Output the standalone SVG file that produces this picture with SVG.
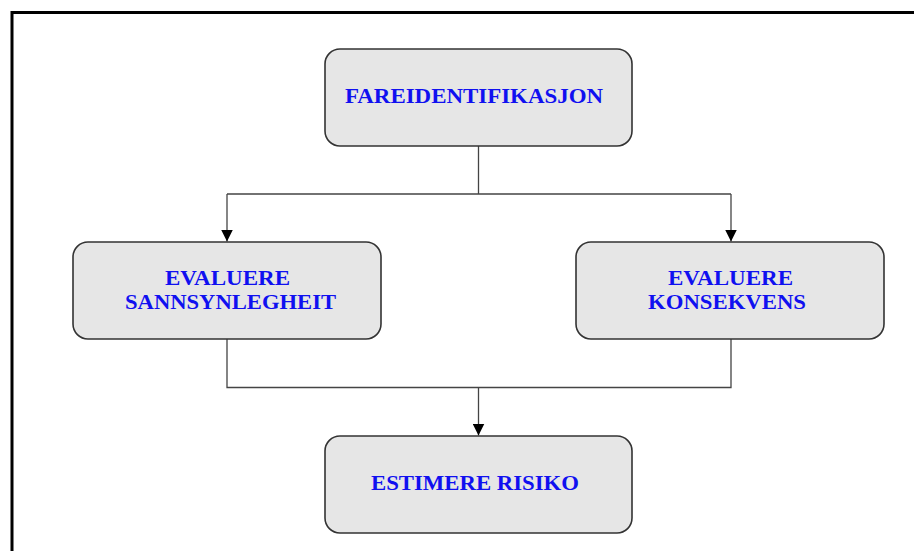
<svg xmlns="http://www.w3.org/2000/svg" width="914" height="551" viewBox="0 0 914 551">
<defs>
<style>
.box{fill:#e6e6e6;stroke:#333;stroke-width:1.6}
.lbl{font-family:"Liberation Serif","Times New Roman",serif;font-weight:bold;font-size:20px;fill:#1010f0}
.con{fill:none;stroke:#444;stroke-width:1.3}
</style>
<marker id="ah" markerWidth="12" markerHeight="12" viewBox="0 0 12 12" refX="12" refY="6" orient="auto" markerUnits="userSpaceOnUse">
<path d="M0,0 L12,6 L0,12 Z" fill="#000"/>
</marker>
</defs>
<rect width="914" height="551" fill="#fff"/>
<rect x="12" y="12.5" width="920" height="560" fill="none" stroke="#000" stroke-width="3"/>
<g id="connectors">
<path class="con" d="M478.5,146 V194 M227,194 H731"/>
<path class="con" d="M227,194 V241.5" marker-end="url(#ah)"/>
<path class="con" d="M731,194 V241.5" marker-end="url(#ah)"/>
<path class="con" d="M227,339 V387.5 H731 V339"/>
<path class="con" d="M478.5,387.5 V435.5" marker-end="url(#ah)"/>
</g>
<g id="fareidentifikasjon">
<rect class="box" x="325" y="49" width="307" height="97" rx="15"/>
<text class="lbl" x="345" y="103" textLength="258" lengthAdjust="spacingAndGlyphs">FAREIDENTIFIKASJON</text>
</g>
<g id="sannsynlegheit">
<rect class="box" x="73" y="242" width="308" height="97" rx="15"/>
<text class="lbl" x="165" y="285" textLength="125" lengthAdjust="spacingAndGlyphs">EVALUERE</text>
<text class="lbl" x="125" y="309" textLength="211" lengthAdjust="spacingAndGlyphs">SANNSYNLEGHEIT</text>
</g>
<g id="konsekvens">
<rect class="box" x="576" y="242" width="308" height="97" rx="15"/>
<text class="lbl" x="668" y="285" textLength="125" lengthAdjust="spacingAndGlyphs">EVALUERE</text>
<text class="lbl" x="648" y="309" textLength="158" lengthAdjust="spacingAndGlyphs">KONSEKVENS</text>
</g>
<g id="risiko">
<rect class="box" x="325" y="436" width="307" height="97" rx="15"/>
<text class="lbl" x="371" y="490" textLength="208" lengthAdjust="spacingAndGlyphs">ESTIMERE RISIKO</text>
</g>
</svg>
